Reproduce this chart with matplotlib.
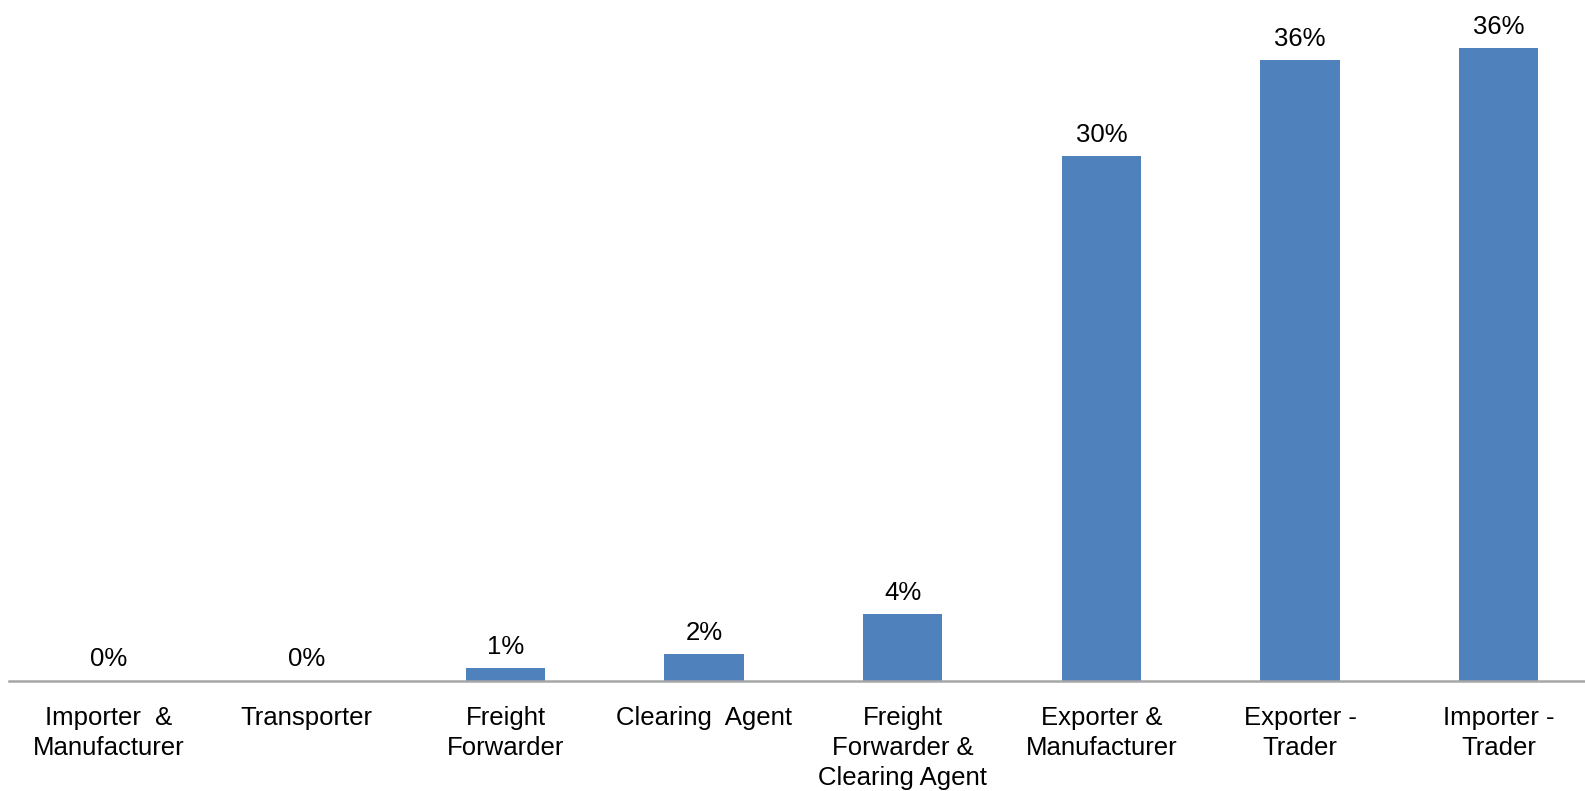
import matplotlib.pyplot as plt

plt.rcParams['font.family'] = ['Liberation Sans', 'DejaVu Sans']

categorias = ["Importer  &\nManufacturer", "Transporter", "Freight\nForwarder",
              "Clearing  Agent", "Freight\nForwarder &\nClearing Agent",
              "Exporter &\nManufacturer", "Exporter -\nTrader", "Importer -\nTrader"]
porcentajes = [0.0, 0.0, 0.7, 1.5, 3.8, 30.1, 35.6, 36.3]

W, H = 1585, 791
fig = plt.figure(figsize=(W / 100, H / 100), dpi=100)

# el eje se sale un poco por la derecha, como en el original
x0, x1 = 8.9, 1598
base = 680.5
ax = fig.add_axes([x0 / W, (H - base) / H, (x1 - x0) / W, base / H])

pos = list(range(len(categorias)))
barras = ax.bar(pos, porcentajes, width=0.40, color='#4F81BD')
ax.set_xlim(-0.5, len(categorias) - 0.5)
ax.set_ylim(0, base / 17.43)

for b, v in zip(barras, porcentajes):
    ax.annotate('{:.0f}%'.format(v), (b.get_x() + b.get_width() / 2, v),
                xytext=(0, 6.5), textcoords='offset points',
                ha='center', va='bottom', fontsize=18.5, color='black')

ax.set_xticks(pos)
ax.set_xticklabels(categorias, fontsize=18.5, linespacing=1.33)
ax.tick_params(axis='x', length=0, pad=18)
ax.set_yticks([])

for s in ['top', 'right', 'left']:
    ax.spines[s].set_visible(False)
ax.spines['bottom'].set_color('#A6A6A6')
ax.spines['bottom'].set_linewidth(1.8)

fig.savefig('out.png', dpi=100)
